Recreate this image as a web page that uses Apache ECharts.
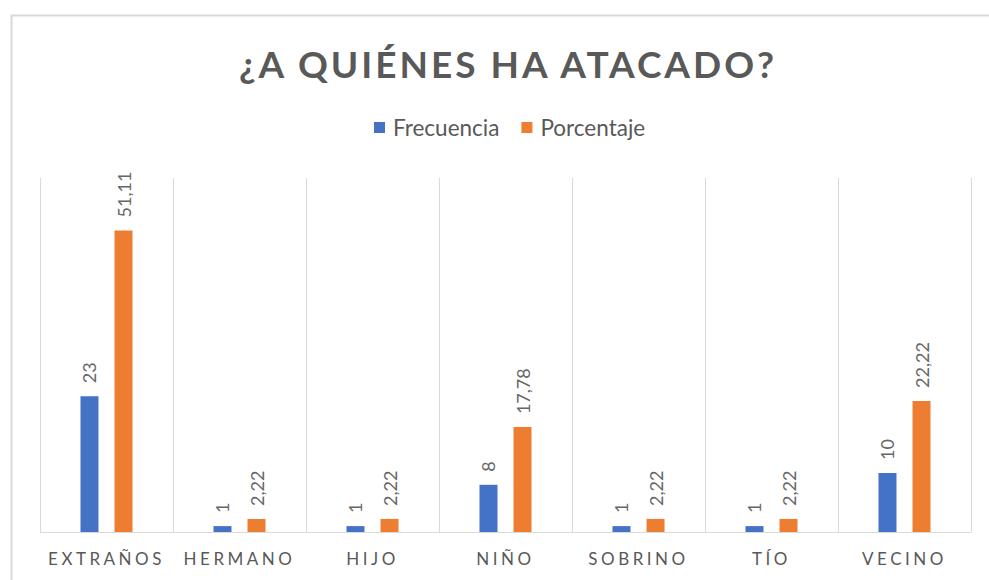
<!DOCTYPE html>
<html>
<head>
<meta charset="utf-8">
<script src="https://cdn.jsdelivr.net/npm/echarts@6.0.0/dist/echarts.min.js"></script>
<style>
html,body{margin:0;padding:0;background:#fff;}
#chart{width:989px;height:580px;}
</style>
</head>
<body>
<div id="chart"></div>
<script>
const titleText = '¿A QUIÉNES HA ATACADO?';
const categories = ['EXTRAÑOS', 'HERMANO', 'HIJO', 'NIÑO', 'SOBRINO', 'TÍO', 'VECINO'];
const frecuencia = [23, 1, 1, 8, 1, 1, 10];
const porcentaje = [51.11, 2.22, 2.22, 17.78, 2.22, 2.22, 22.22];
const seriesNames = ['Frecuencia', 'Porcentaje'];

const fmt = p => String(p.value).replace('.', ',');
const labelCfg = {
  show: true, position: 'top', rotate: 90, align: 'left', verticalAlign: 'middle',
  distance: 13, color: '#666666', fontSize: 18, fontFamily: 'Lato', formatter: fmt
};

const chart = echarts.init(document.getElementById('chart'), null, {renderer: 'svg'});
chart.setOption({
  animation: false,
  graphic: [{
    type: 'rect', left: 9, top: 13, silent: true,
    shape: {width: 1000, height: 600},
    style: {fill: 'none', stroke: '#d9d9d9', lineWidth: 2}
  }],
  title: {
    text: titleText, left: 503, top: 40, textAlign: 'center',
    textStyle: {fontFamily: 'Lato', fontWeight: 'bold', fontSize: 37, color: '#595959'}
  },
  legend: {
    data: seriesNames, left: 374, top: 116, itemWidth: 11, itemHeight: 11, itemGap: 22,
    icon: 'rect', padding: 0,
    textStyle: {fontFamily: 'Lato', fontSize: 22.5, color: '#595959', padding: [0, 0, 0, 3]}
  },
  grid: {left: 40, right: 18, top: 178, bottom: 48, containLabel: false},
  xAxis: {
    type: 'category', data: categories,
    axisLine: {lineStyle: {color: '#d9d9d9', width: 1}},
    axisTick: {show: false},
    splitLine: {show: true, lineStyle: {color: '#d9d9d9', width: 1}},
    axisLabel: {color: '#595959', fontSize: 17, fontFamily: 'Lato', margin: 18, interval: 0}
  },
  yAxis: {
    type: 'value', min: 0, max: 60, interval: 10,
    axisLine: {show: false}, axisTick: {show: false}, axisLabel: {show: false},
    splitLine: {show: false}
  },
  series: [
    {name: seriesNames[0], type: 'bar', data: frecuencia, barWidth: 18, barGap: '89%',
     itemStyle: {color: '#4472C4'}, label: labelCfg},
    {name: seriesNames[1], type: 'bar', data: porcentaje, barWidth: 18,
     itemStyle: {color: '#ED7D31'}, label: labelCfg}
  ]
});

function spaceText(){
  document.querySelectorAll('#chart text').forEach(t => {
    const s = t.textContent;
    if (s === titleText) t.style.letterSpacing = '3px';
    else if (categories.indexOf(s) >= 0) t.style.letterSpacing = '3.5px';
  });
}
spaceText();
chart.on('finished', spaceText);
</script>
</body>
</html>
